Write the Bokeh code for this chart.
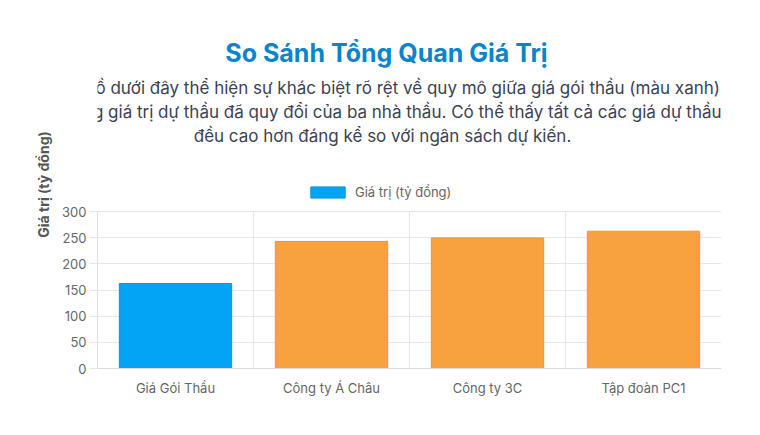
from bokeh.plotting import figure
from bokeh.models import (Range1d, FactorRange, ColumnDataSource, Label, Legend,
                          LegendItem, FixedTicker, Grid)
from bokeh.embed import file_html
from bokeh.resources import INLINE

# ---- data ----
categories = ["Giá Gói Thầu", "Công ty Á Châu", "Công ty 3C", "Tập đoàn PC1"]
values = [162.4, 242.8, 249.5, 262.3]
fill_colors = ["#03a4f4", "#f8a13f", "#f8a13f", "#f8a13f"]
line_colors = ["#0896e0", "#ef9530", "#ef9530", "#ef9530"]
y_ticks = [0, 50, 100, 150, 200, 250, 300]
y_max = 300
series_label = "Giá trị (tỷ đồng)"
y_title = "Giá trị (tỷ đồng)"
title_text = "So Sánh Tổng Quan Giá Trị"
subtitle_lines = [
    "Biểu đồ dưới đây thể hiện sự khác biệt rõ rệt về quy mô giữa giá gói thầu (màu xanh)",
    "và tổng giá trị dự thầu đã quy đổi của ba nhà thầu. Có thể thấy tất cả các giá dự thầu",
    "đều cao hơn đáng kể so với ngân sách dự kiến.",
]

FONT = "Inter"
W, H = 752, 430
LEFT, RIGHT, BOTTOM = 97, 721, 368        # page pixels of the plot area
AXIS_TOP = 211                            # page pixel of the value 300
# the frame spans the whole height above the x axis so headings fit inside it
y_top = y_max * BOTTOM / (BOTTOM - AXIS_TOP)
cat_px = (RIGHT - LEFT) / len(categories)


def page_x(px):
    # page pixel -> synthetic categorical coordinate
    return (px - LEFT) / cat_px


source = ColumnDataSource(dict(cat=categories, val=values,
                               fill=fill_colors, line=line_colors))

p = figure(width=W, height=H, x_range=FactorRange(*categories),
           y_range=Range1d(0, y_top), output_backend="svg", toolbar_location=None,
           min_border_left=LEFT, min_border_right=W - RIGHT, min_border_top=0,
           min_border_bottom=H - BOTTOM, background_fill_color="white",
           border_fill_color="white", outline_line_color=None)
p.styles = {"border-radius": "10px"}
# pixel range for positioning header texts vertically
p.extra_y_ranges = {"py": Range1d(BOTTOM, 0)}

r = p.vbar(x="cat", top="val", width=0.72, source=source,
           fill_color="fill", line_color="line", line_width=1)

# axes
p.yaxis.ticker = FixedTicker(ticks=y_ticks)
p.yaxis.bounds = (0, y_max)
p.yaxis.major_label_text_font = FONT
p.yaxis.major_label_text_font_size = "13px"
p.yaxis.major_label_text_color = "#666666"
p.yaxis.major_tick_out = 8
p.yaxis.major_tick_in = 0
p.yaxis.major_tick_line_color = "#e6e6e6"
p.yaxis.minor_tick_line_color = None
p.yaxis.axis_line_color = "#dedede"
p.yaxis.major_label_standoff = 3
p.yaxis.axis_label = y_title
p.yaxis.axis_label_text_font = FONT
p.yaxis.axis_label_text_font_style = "bold"
p.yaxis.axis_label_text_font_size = "14px"
p.yaxis.axis_label_text_color = "#555555"
p.yaxis.axis_label_standoff = 7

p.xaxis.major_label_text_font = FONT
p.xaxis.major_label_text_font_size = "13px"
p.xaxis.major_label_text_color = "#666666"
p.xaxis.major_tick_line_color = None
p.xaxis.major_label_standoff = 5
p.xaxis.axis_line_color = "#d9d9d9"

# grids
p.ygrid.grid_line_color = "#e6e6e6"
p.xgrid.grid_line_color = None
boundaries = list(range(len(categories) + 1))
if "cross_bounds" in Grid.properties():
    vgrid = Grid(dimension=0, ticker=FixedTicker(ticks=boundaries),
                 grid_line_color="#e6e6e6", cross_bounds=(0, y_max))
    p.add_layout(vgrid)
else:
    p.segment(x0=boundaries, x1=boundaries, y0=0, y1=y_max,
              line_color="#e6e6e6", line_width=1, level="underlay")

# legend
legend = Legend(items=[LegendItem(label=series_label, renderers=[r], index=0)],
                location=(209, 168), orientation="horizontal",
                border_line_color=None, background_fill_alpha=0,
                padding=0, margin=0, glyph_width=43, glyph_height=14,
                label_height=14, label_standoff=6,
                label_text_font=FONT, label_text_font_size="13px",
                label_text_color="#666666")
p.add_layout(legend, "center")

# header texts
p.add_layout(Label(x=page_x(386), y=52, y_range_name="py",
                   text=title_text, text_align="center", text_baseline="middle",
                   text_font=FONT, text_font_size="25px",
                   text_font_style="bold", text_color="#0a84cc"))
for i, line in enumerate(subtitle_lines):
    p.add_layout(Label(x=page_x(382), y=87 + 24 * i, y_range_name="py",
                       text=line, text_align="center", text_baseline="middle",
                       text_font=FONT, text_font_size="17px",
                       text_color="#3b4252"))

open("out.html", "w").write(file_html(p, INLINE))
